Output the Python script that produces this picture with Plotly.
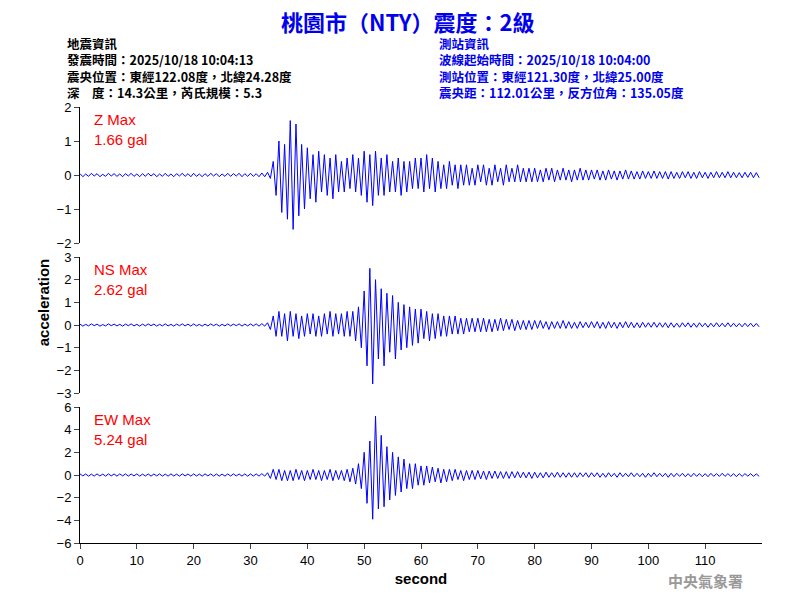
import plotly.graph_objects as go

pre = [0.04,-0.05,0.03,-0.04,0.05,-0.03,0.04,-0.05,0.02,-0.04,0.05,-0.03,0.04,-0.04,0.03,-0.05,0.04,-0.03,0.05,-0.04,
       0.03,-0.05,0.04,-0.04,0.05,-0.03,0.04,-0.05,0.03,-0.04,0.05,-0.04,0.03,-0.05,0.04,-0.03,0.05,-0.04,0.04,-0.05,
       0.05,-0.04,0.03,-0.05,0.04,-0.04,0.05,-0.03,0.04,-0.05,0.03,-0.04,0.05,-0.04,0.04,-0.03,0.05,-0.05,0.04,-0.04]
tail = [0.15,-0.12,0.15,-0.15,0.12,-0.15,0.15,-0.12,0.12,-0.15,0.12,-0.12,0.15,-0.12,0.12,-0.12,0.1,-0.12,0.12,-0.1,
        0.1,-0.1,0.12,-0.1,0.1,-0.1,0.1,-0.12,0.1,-0.1,0.08,-0.1,0.1,-0.08,0.1,-0.1,0.08,-0.1,0.1,-0.08,
        0.08,-0.1,0.08,-0.08,0.1,-0.08,0.08,-0.08,0.1,-0.08,0.08,-0.08,0.07,-0.08,0.08,-0.07,0.08,-0.08,0.07,-0.08]

z_vals = pre + [
 0.05,-0.04,0.04,-0.05,0.06,-0.05,0.08,-0.1,0.4,-0.6,1.0,-1.1,0.9,-1.3,1.6,-1.6,1.5,-1.2,0.9,-1.0,
 0.8,-0.7,0.6,-0.8,0.7,-0.5,0.6,-0.6,0.5,-0.7,0.6,-0.5,0.4,-0.5,0.5,-0.4,0.6,-0.5,0.5,-0.6,
 0.7,-0.8,0.6,-0.9,0.7,-0.6,0.5,-0.6,0.6,-0.5,0.4,-0.5,0.5,-0.6,0.4,-0.5,0.4,-0.4,0.5,-0.4,
 0.5,-0.5,0.6,-0.4,0.5,-0.5,0.4,-0.4,0.3,-0.4,0.4,-0.3,0.3,-0.4,0.3,-0.3,0.3,-0.3,0.2,-0.3,
 0.3,-0.2,0.3,-0.3,0.2,-0.3,0.3,-0.2,0.2,-0.3,0.3,-0.2,0.2,-0.2,0.3,-0.2,0.2,-0.2,0.2,-0.2,
 0.2,-0.2,0.15,-0.2,0.2,-0.15,0.2,-0.2,0.15,-0.15,0.2,-0.15,0.15,-0.2,0.15,-0.15,0.2,-0.15,0.15,-0.15] + tail

ns_vals = pre + [
 0.05,-0.04,0.05,-0.05,0.06,-0.05,0.1,-0.2,0.4,-0.5,0.6,-0.5,0.5,-0.7,0.6,-0.5,0.5,-0.6,0.4,-0.5,
 0.5,-0.4,0.5,-0.5,0.4,-0.5,0.5,-0.4,0.6,-0.5,0.5,-0.4,0.5,-0.5,0.6,-0.5,0.6,-0.7,0.8,-1.0,
 1.5,-1.8,2.5,-2.6,2.0,-1.5,1.6,-1.8,1.4,-1.2,1.3,-1.5,1.0,-1.1,0.9,-1.0,0.8,-0.9,0.7,-0.8,
 0.7,-0.6,0.6,-0.7,0.5,-0.6,0.5,-0.5,0.4,-0.5,0.4,-0.4,0.4,-0.4,0.3,-0.4,0.3,-0.3,0.3,-0.3,
 0.3,-0.3,0.3,-0.3,0.25,-0.3,0.25,-0.25,0.3,-0.25,0.25,-0.2,0.25,-0.25,0.2,-0.2,0.2,-0.2,0.2,-0.2,
 0.2,-0.15,0.2,-0.15,0.15,-0.2,0.15,-0.15,0.15,-0.15,0.2,-0.15,0.15,-0.15,0.12,-0.15,0.15,-0.12,0.12,-0.12] + tail

ew_pre = [0.1,-0.08,0.09,-0.1,0.08,-0.1,0.1,-0.09,0.08,-0.1,0.1,-0.08,0.09,-0.1,0.1,-0.08,0.1,-0.1,0.09,-0.08,
          0.1,-0.1,0.08,-0.09,0.1,-0.1,0.09,-0.08,0.1,-0.1,0.08,-0.1,0.1,-0.09,0.08,-0.1,0.1,-0.08,0.09,-0.1,
          0.1,-0.09,0.08,-0.1,0.1,-0.08,0.1,-0.1,0.09,-0.1,0.08,-0.1,0.1,-0.09,0.1,-0.08,0.09,-0.1,0.1,-0.1]
ew_vals = ew_pre + [
 0.1,-0.1,0.1,-0.1,0.12,-0.1,0.2,-0.3,0.5,-0.4,0.5,-0.5,0.4,-0.5,0.4,-0.5,0.5,-0.4,0.4,-0.5,
 0.4,-0.4,0.5,-0.4,0.4,-0.5,0.4,-0.4,0.5,-0.5,0.4,-0.4,0.4,-0.5,0.5,-0.6,0.6,-0.8,1.0,-1.2,
 2.0,-2.5,3.0,-3.9,5.2,-3.0,3.5,-2.8,2.5,-2.2,2.0,-1.8,1.6,-1.5,1.4,-1.2,1.0,-1.2,1.0,-0.9,
 0.8,-0.9,0.8,-0.7,0.7,-0.6,0.6,-0.7,0.5,-0.6,0.5,-0.5,0.5,-0.4,0.4,-0.5,0.4,-0.4,0.4,-0.4,
 0.4,-0.35,0.35,-0.4,0.35,-0.3,0.35,-0.3,0.3,-0.3,0.3,-0.3,0.3,-0.25,0.3,-0.25,0.25,-0.25,0.25,-0.3,
 0.25,-0.25,0.2,-0.25,0.25,-0.2,0.2,-0.2,0.25,-0.2,0.2,-0.2,0.2,-0.2,0.2,-0.2,0.2,-0.15,0.2,-0.2,
 0.2,-0.15,0.2,-0.2,0.15,-0.2,0.2,-0.15,0.15,-0.2,0.2,-0.15,0.15,-0.15,0.2,-0.15,0.15,-0.15,0.15,-0.2,
 0.15,-0.15,0.2,-0.15,0.15,-0.15,0.15,-0.2,0.15,-0.15,0.15,-0.12,0.15,-0.15,0.12,-0.15,0.15,-0.12,0.12,-0.15,
 0.12,-0.15,0.15,-0.12,0.12,-0.12,0.15,-0.12,0.12,-0.12,0.12,-0.15,0.12,-0.12,0.12,-0.1,0.12,-0.12,0.1,-0.12]

channels = ["Z", "NS", "EW"]
max_labels = ["1.66 gal", "2.62 gal", "5.24 gal"]
y_ranges = [[-2, 2], [-3, 3], [-6, 6]]
y_dticks = [1, 1, 2]
x_ticks = [0, 10, 20, 30, 40, 50, 60, 70, 80, 90, 100, 110]
dt = 0.5

series = [z_vals, ns_vals, ew_vals]
fig = go.Figure()
domains = [[0.6083, 0.835], [0.3583, 0.585], [0.1083, 0.335]]
font = "Noto Sans CJK TC"
for i, vals in enumerate(series):
    t = [k * dt for k in range(len(vals))]
    ax = "" if i == 0 else str(i + 1)
    fig.add_trace(go.Scatter(x=t, y=vals, mode="lines", line=dict(color="#0000ff", width=1),
                             xaxis="x" + ax, yaxis="y" + ax, showlegend=False))
    fig.layout["xaxis" + ax] = dict(domain=[0.09, 0.9425], range=[0, 120], anchor="y" + ax,
        automargin=False,
        showgrid=False, zeroline=False, showline=(i == 2), linecolor="black",
        showticklabels=(i == 2), ticks="outside" if i == 2 else "", tickvals=x_ticks,
        tickfont=dict(size=13, color="black", family="Arial"),
        title=dict(text="<b>second</b>", standoff=6, font=dict(size=15, family="Arial", color="black")) if i == 2 else None)
    fig.layout["yaxis" + ax] = dict(domain=domains[i], range=y_ranges[i], dtick=y_dticks[i],
        anchor="x" + ax, automargin=False, showgrid=False, zeroline=False, showline=True, linecolor="black",
        ticks="outside", tickfont=dict(size=13, color="black", family="Arial"))
    fig.add_annotation(xref="paper", yref="paper", x=0.1055, y=domains[i][1] - 0.003,
        xanchor="left", yanchor="top", align="left", showarrow=False,
        text=f"{channels[i]} Max<br>{max_labels[i]}", font=dict(size=15, color="red", family="Arial"))

fig.add_annotation(xref="paper", yref="paper", x=0.5, y=0.978, xanchor="center", yanchor="middle",
    showarrow=False, text="<b>桃園市（NTY）震度：2級</b>", font=dict(size=22, color="#0000ee", family=font))
left = "<b>地震資訊<br>發震時間：2025/10/18 10:04:13<br>震央位置：東經122.08度，北緯24.28度<br>深　度：14.3公里，芮氏規模：5.3</b>"
right = "<b>測站資訊<br>波線起始時間：2025/10/18 10:04:00<br>測站位置：東經121.30度，北緯25.00度<br>震央距：112.01公里，反方位角：135.05度</b>"
fig.add_annotation(xref="paper", yref="paper", x=0.071, y=0.96, xanchor="left", yanchor="top",
    align="left", showarrow=False, text=left, font=dict(size=12.5, color="black", family=font))
fig.add_annotation(xref="paper", yref="paper", x=0.536, y=0.96, xanchor="left", yanchor="top",
    align="left", showarrow=False, text=right, font=dict(size=12.5, color="#0000ee", family=font))
fig.add_annotation(xref="paper", yref="paper", x=0.031, y=0.51, textangle=-90, showarrow=False,
    text="<b>acceleration</b>", font=dict(size=15, color="black", family="Arial"))
fig.add_annotation(xref="paper", yref="paper", x=0.921, y=0.025, xanchor="right", yanchor="bottom",
    showarrow=False, text="<b>中央氣象署</b>", font=dict(size=15, color="#999999", family=font))

fig.update_layout(width=800, height=600, margin=dict(l=0, r=0, t=0, b=0),
                  plot_bgcolor="white", paper_bgcolor="white")
fig.write_html("out.html")
